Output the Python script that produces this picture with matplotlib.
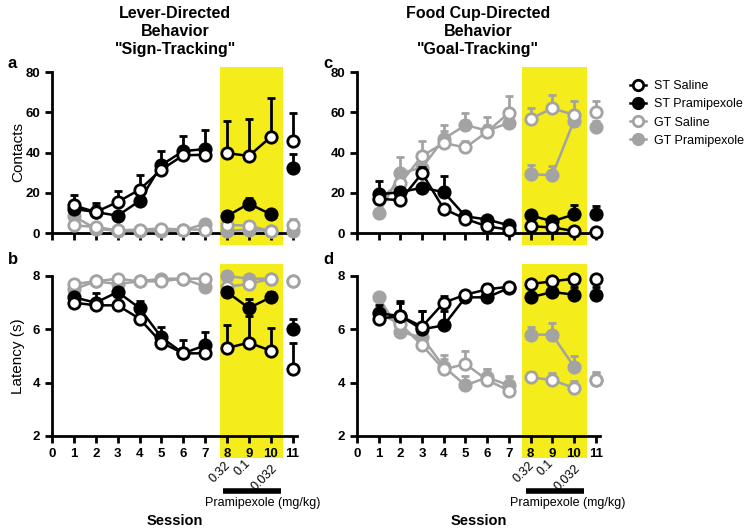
import matplotlib
matplotlib.use("Agg")
import matplotlib.pyplot as plt
import matplotlib.transforms as mtransforms
from matplotlib.patches import Rectangle
from matplotlib.lines import Line2D
import numpy as np

plt.rcParams['font.family'] = ['Liberation Sans', 'DejaVu Sans']

sessions = np.arange(1, 12)
doses = ["0.32", "0.1", "0.032"]
group_names = ["ST Saline", "ST Pramipexole", "GT Saline", "GT Pramipexole"]

# panel a - lever contacts
a_st_sal = [13.7, 10.4, 15.4, 21.5, 31.5, 38.6, 38.9, 39.7, 38.3, 47.7, 45.5]
a_st_sal_err = [5.0, 4.6, 5.3, 7.5, 2.0, 3.0, 2.0, 15.8, 18.2, 19.3, 14.3]
a_st_pra = [12.0, 10.4, 8.6, 15.9, 33.8, 40.7, 41.7, 8.4, 14.6, 9.3, 32.5]
a_st_pra_err = [4.0, 3.0, 2.0, 3.0, 6.9, 7.3, 9.6, 1.5, 2.8, 1.5, 6.7]
a_gt_sal = [3.8, 3.0, 1.3, 1.7, 2.2, 1.7, 1.7, 4.1, 3.6, 1.0, 4.1]
a_gt_sal_err = [1.0, 1.0, 0.5, 0.5, 0.5, 0.5, 0.5, 1.0, 1.0, 0.5, 3.0]
a_gt_pra = [8.3, 2.2, 1.0, 1.0, 1.0, 1.3, 4.6, 1.0, 1.7, 1.0, 1.0]
a_gt_pra_err = [1.5, 1.0, 0.5, 0.5, 0.5, 0.5, 1.0, 0.5, 0.5, 0.5, 0.5]

# panel b - lever latency
b_st_sal = [7.0, 6.9, 6.9, 6.4, 5.5, 5.1, 5.1, 5.3, 5.5, 5.2, 4.5]
b_st_sal_err = [0.1, 0.1, 0.1, 0.1, 0.1, 0.1, 0.1, 0.85, 1.0, 0.85, 1.0]
b_st_pra = [7.2, 7.0, 7.4, 6.8, 5.7, 5.1, 5.4, 7.4, 6.8, 7.2, 6.0]
b_st_pra_err = [0.1, 0.35, 0.1, 0.25, 0.4, 0.5, 0.5, 0.1, 0.35, 0.2, 0.4]
b_gt_sal = [7.7, 7.8, 7.9, 7.8, 7.8, 7.9, 7.9, 7.6, 7.7, 7.9, 7.8]
b_gt_sal_err = [0.05] * 11
b_gt_pra = [7.5, 7.8, 7.7, 7.8, 7.9, 7.9, 7.6, 8.0, 7.9, 7.9, 7.8]
b_gt_pra_err = [0.05] * 11

# panel c - food cup contacts
c_st_sal = [17.0, 16.3, 29.7, 12.0, 7.0, 3.3, 1.7, 3.3, 2.8, 1.0, 0.3]
c_st_sal_err = [1.0, 1.0, 3.0, 2.0, 1.0, 1.0, 1.0, 1.0, 1.0, 0.5, 0.3]
c_st_pra = [19.2, 20.3, 22.5, 20.3, 8.3, 6.7, 3.8, 8.8, 5.8, 9.2, 9.5]
c_st_pra_err = [6.6, 2.0, 2.0, 8.0, 1.5, 1.5, 1.0, 1.5, 1.5, 4.6, 3.8]
c_gt_sal = [17.0, 24.7, 38.3, 44.7, 42.5, 50.3, 59.7, 56.7, 62.0, 58.7, 60.0]
c_gt_sal_err = [2.0, 4.0, 7.5, 9.0, 3.0, 7.2, 8.3, 5.3, 6.8, 7.1, 5.8]
c_gt_pra = [9.7, 29.7, 32.5, 46.7, 53.7, 50.8, 54.7, 29.2, 28.7, 55.8, 52.5]
c_gt_pra_err = [2.0, 8.1, 4.0, 4.0, 6.0, 3.0, 3.0, 4.5, 4.6, 3.0, 3.0]

# panel d - food cup latency
d_st_sal = [6.4, 6.5, 6.1, 7.0, 7.3, 7.5, 7.6, 7.7, 7.8, 7.9, 7.9]
d_st_sal_err = [0.1, 0.55, 0.6, 0.25, 0.1, 0.2, 0.1, 0.1, 0.1, 0.1, 0.1]
d_st_pra = [6.6, 6.5, 6.0, 6.15, 7.2, 7.2, 7.55, 7.2, 7.4, 7.3, 7.3]
d_st_pra_err = [0.3, 0.5, 0.7, 0.52, 0.1, 0.2, 0.1, 0.1, 0.1, 0.3, 0.3]
d_gt_sal = [6.6, 6.2, 5.4, 4.5, 4.7, 4.1, 3.7, 4.2, 4.1, 3.8, 4.1]
d_gt_sal_err = [0.1, 0.1, 0.1, 0.55, 0.5, 0.4, 0.55, 0.2, 0.25, 0.25, 0.25]
d_gt_pra = [7.2, 5.9, 5.7, 4.6, 3.9, 4.2, 3.9, 5.8, 5.8, 4.6, 4.1]
d_gt_pra_err = [0.1, 0.1, 0.1, 0.3, 0.35, 0.3, 0.3, 0.3, 0.45, 0.4, 0.3]

GRAY = "#a3a3a3"
YELLOW = "#f5ec1c"
styles = {
    "ST Saline": dict(color="black", mfc="white"),
    "ST Pramipexole": dict(color="black", mfc="black"),
    "GT Saline": dict(color=GRAY, mfc="white"),
    "GT Pramipexole": dict(color=GRAY, mfc=GRAY),
}
zorders = {"GT Pramipexole": 3, "GT Saline": 4, "ST Pramipexole": 5, "ST Saline": 6}


def draw_group(ax, vals, errs, name):
    st = styles[name]
    z = zorders[name]
    vals = np.array(vals)
    errs = np.array(errs)
    ax.errorbar(sessions, vals, yerr=[np.zeros_like(errs), errs], fmt="none",
                ecolor=st["color"], elinewidth=2, capsize=3, capthick=2,
                zorder=z, clip_on=False)
    for seg in (slice(0, 7), slice(7, 10), slice(10, 11)):
        ax.plot(sessions[seg], vals[seg], "-o", color=st["color"], lw=1.8,
                mfc=st["mfc"], mec=st["color"], mew=2, ms=8.2, zorder=z + 0.5,
                clip_on=False)


fig = plt.figure(figsize=(7.49, 5.32), dpi=100)
W, H = 749, 532


def make_ax(left, top, width, height):
    return fig.add_axes([left / W, 1 - (top + height) / H, width / W, height / H])


ax_a = make_ax(52, 72, 245, 161)
ax_b = make_ax(52, 276, 245, 160)
ax_c = make_ax(357, 72, 243, 161)
ax_d = make_ax(357, 276, 243, 160)

panels = [
    (ax_a, [a_st_sal, a_st_pra, a_gt_sal, a_gt_pra],
     [a_st_sal_err, a_st_pra_err, a_gt_sal_err, a_gt_pra_err], (0, 80), [0, 20, 40, 60, 80]),
    (ax_b, [b_st_sal, b_st_pra, b_gt_sal, b_gt_pra],
     [b_st_sal_err, b_st_pra_err, b_gt_sal_err, b_gt_pra_err], (2, 8), [2, 4, 6, 8]),
    (ax_c, [c_st_sal, c_st_pra, c_gt_sal, c_gt_pra],
     [c_st_sal_err, c_st_pra_err, c_gt_sal_err, c_gt_pra_err], (0, 80), [0, 20, 40, 60, 80]),
    (ax_d, [d_st_sal, d_st_pra, d_gt_sal, d_gt_pra],
     [d_st_sal_err, d_st_pra_err, d_gt_sal_err, d_gt_pra_err], (2, 8), [2, 4, 6, 8]),
]

for ax, series, errs, ylim, yticks in panels:
    ax.set_facecolor("none")
    for vals, e, name in zip(series, errs, group_names):
        draw_group(ax, vals, e, name)
    ax.set_xlim(0, 11.2)
    ax.set_ylim(*ylim)
    ax.set_yticks(yticks)
    ax.set_xticks(range(0, 12))
    for s in ("top", "right"):
        ax.spines[s].set_visible(False)
    for s in ("left", "bottom"):
        ax.spines[s].set_linewidth(2)
        ax.spines[s].set_zorder(2)
    ax.tick_params(width=2, length=5, labelsize=9.5)
    for lab in ax.get_yticklabels() + ax.get_xticklabels():
        lab.set_fontweight("bold")

ax_a.set_xticklabels([])
ax_c.set_xticklabels([])

# yellow highlight for pramipexole sessions
for ax, x0, x1, y0, y1 in [(ax_a, 7.7, 10.55, -0.075, 1.03),
                           (ax_b, 7.7, 10.55, -0.14, 1.075),
                           (ax_c, 7.6, 10.6, -0.075, 1.03),
                           (ax_d, 7.6, 10.6, -0.14, 1.075)]:
    trans = mtransforms.blended_transform_factory(ax.transData, ax.transAxes)
    ax.add_patch(Rectangle((x0, y0), x1 - x0, y1 - y0, transform=trans,
                           facecolor=YELLOW, edgecolor="none", zorder=0,
                           clip_on=False))

# dose annotation under bottom panels
for ax, xpram in [(ax_b, 7.0), (ax_d, 7.05)]:
    trans = mtransforms.blended_transform_factory(ax.transData, ax.transAxes)
    for x, d, dy in zip([8, 9, 10], doses, [-0.225, -0.2, -0.26]):
        ax.text(x - 0.3, dy, d, rotation=45, ha="center", va="center",
                fontsize=9, transform=trans)
    ax.plot([7.8, 10.45], [-0.345, -0.345], color="black", lw=4,
            transform=trans, clip_on=False, solid_capstyle="butt")
    ax.text(xpram, -0.42, "Pramipexole (mg/kg)", ha="left", va="center",
            fontsize=9, transform=trans)
    ax.text(5.6, -0.53, "Session", ha="center", va="center", fontsize=10.5,
            fontweight="bold", transform=trans)

ax_a.set_ylabel("Contacts", fontsize=11)
ax_a.yaxis.set_label_coords(-0.11, 0.5)
ax_b.set_ylabel("Latency (s)", fontsize=11)
ax_b.yaxis.set_label_coords(-0.11, 0.5)

# titles and panel letters
fig.text(175 / W, 1 - 6 / H, 'Lever-Directed\nBehavior\n"Sign-Tracking"',
         ha="center", va="top", fontsize=11.5, fontweight="bold", linespacing=1.25)
fig.text(478 / W, 1 - 6 / H, 'Food Cup-Directed\nBehavior\n"Goal-Tracking"',
         ha="center", va="top", fontsize=11.5, fontweight="bold", linespacing=1.25)
for txt, x, y in [("a", 8, 64), ("b", 8, 260), ("c", 323, 64), ("d", 323, 260)]:
    fig.text(x / W, 1 - y / H, txt, ha="left", va="center", fontsize=12,
             fontweight="bold")

handles = [Line2D([], [], color=styles[n]["color"], marker="o", lw=1.8,
                  mfc=styles[n]["mfc"], mec=styles[n]["color"], mew=2, ms=7.5)
           for n in group_names]
fig.legend(handles, group_names, loc="upper left",
           bbox_to_anchor=(630 / W, 1 - 80 / H), frameon=False, fontsize=9,
           handlelength=1.3, handletextpad=0.6, labelspacing=0.5,
           borderaxespad=0, borderpad=0)

fig.savefig("out.png", dpi=100)
